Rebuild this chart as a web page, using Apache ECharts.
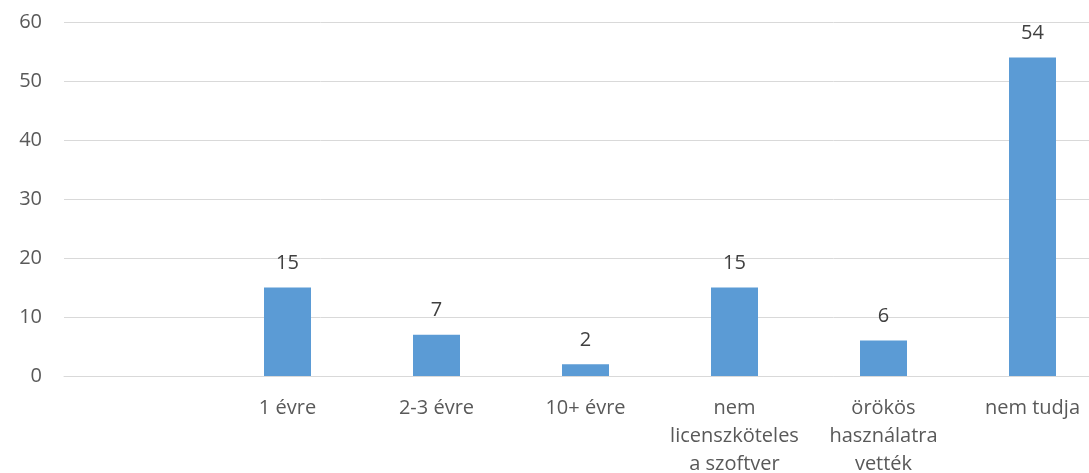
<!DOCTYPE html>
<html>
<head>
<meta charset="utf-8">
<script src="https://cdn.jsdelivr.net/npm/echarts@6/dist/echarts.min.js"></script>
<style>
  html, body { margin: 0; padding: 0; background: #fff; }
  #chart { width: 1089px; height: 473px; }
</style>
</head>
<body>
<div id="chart"></div>
<script>
// categories (first slot is empty in the original)
var categories = ["", "1 évre", "2-3 évre", "10+ évre", "nem\nlicenszköteles\na szoftver", "örökös\nhasználatra\nvették", "nem tudja"];
var values = ["-", 15, 7, 2, 15, 6, 54];
var yTicks = [0, 10, 20, 30, 40, 50, 60];

var chart = echarts.init(document.getElementById("chart"));

chart.setOption({
  animation: false,
  textStyle: {
    fontFamily: "Open Sans",
    color: "#595959"
  },
  grid: {
    left: 64,
    top: 22,
    width: 1043,
    bottom: 97,
    containLabel: false,
    outerBoundsMode: "none"
  },
  xAxis: {
    type: "category",
    data: categories,
    axisTick: { show: false },
    axisLine: {
      show: true,
      lineStyle: { color: "#D9D9D9", width: 1 }
    },
    axisLabel: {
      interval: 0,
      margin: 18,
      fontSize: 20,
      lineHeight: 28,
      color: "#595959",
      fontFamily: "Open Sans"
    }
  },
  yAxis: {
    type: "value",
    min: yTicks[0],
    max: yTicks[yTicks.length - 1],
    interval: 10,
    axisTick: { show: false },
    axisLine: { show: false },
    splitLine: {
      lineStyle: { color: "#D9D9D9", width: 1 }
    },
    axisLabel: {
      margin: 22,
      fontSize: 20,
      color: "#595959",
      fontFamily: "Open Sans"
    }
  },
  series: [
    {
      type: "bar",
      data: values,
      barWidth: 47,
      itemStyle: { color: "#5B9BD5" },
      label: {
        show: true,
        position: "top",
        distance: 14,
        fontSize: 20,
        color: "#404040",
        fontFamily: "Open Sans"
      }
    }
  ]
});
</script>
</body>
</html>
